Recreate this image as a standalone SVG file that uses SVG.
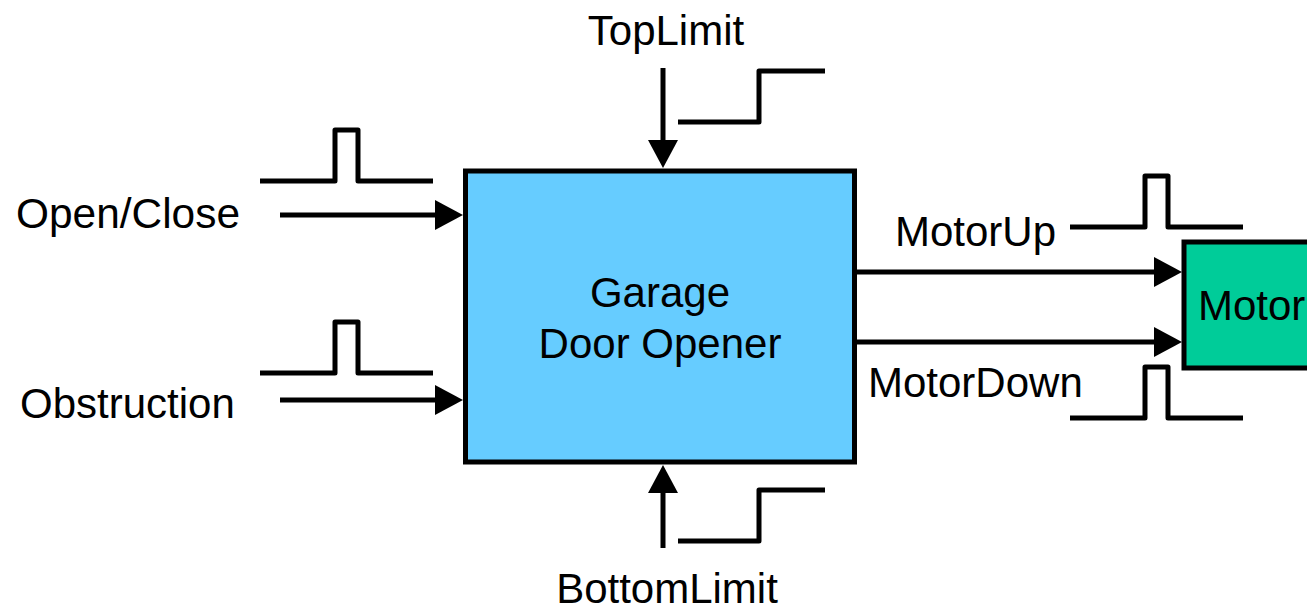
<svg xmlns="http://www.w3.org/2000/svg" width="1307" height="610" viewBox="0 0 1307 610">
<defs>
<style>
.txt{font-family:"Liberation Sans",Arial,sans-serif;font-size:42px;fill:#000}
.wave{fill:none;stroke:#000;stroke-width:5;stroke-linejoin:round}
.conn{fill:none;stroke:#000;stroke-width:5;marker-end:url(#ah)}
</style>
<marker id="ah" markerUnits="userSpaceOnUse" markerWidth="28" markerHeight="30" refX="0" refY="15" orient="auto" viewBox="0 0 28 30">
<path d="M0,0 L28,15 L0,30 z" fill="#000"/>
</marker>
</defs>
<rect width="1307" height="610" fill="#fff"/>
<g id="opener">
<rect x="465.5" y="171" width="389" height="291" fill="#66CCFF" stroke="#000" stroke-width="5"/>
<text class="txt" x="660" y="307" text-anchor="middle">Garage</text>
<text class="txt" x="660" y="358" text-anchor="middle">Door Opener</text>
</g>
<g id="motor">
<rect x="1184" y="242" width="140" height="126" fill="#00CC99" stroke="#000" stroke-width="5"/>
<text class="txt" x="1198" y="320">Motor</text>
</g>
<g id="labels">
<text class="txt" x="16" y="228" textLength="224" lengthAdjust="spacingAndGlyphs">Open/Close</text>
<text class="txt" x="20" y="418">Obstruction</text>
<text class="txt" x="666" y="45" text-anchor="middle">TopLimit</text>
<text class="txt" x="667" y="603" text-anchor="middle">BottomLimit</text>
<text class="txt" x="895" y="246">MotorUp</text>
<text class="txt" x="868" y="397">MotorDown</text>
</g>
<g id="waveforms">
<path class="wave" d="M260,181 H335 V130 H358 V181 H433"/>
<path class="wave" d="M260,373 H335 V322 H358 V373 H433"/>
<path class="wave" d="M678,122 H759 V71 H825"/>
<path class="wave" d="M678,541 H759 V490 H825"/>
<path class="wave" d="M1070,227 H1145 V176 H1168 V227 H1243"/>
<path class="wave" d="M1070,418 H1145 V367 H1168 V418 H1243"/>
</g>
<g id="connectors">
<path class="conn" d="M280,215 H435"/>
<path class="conn" d="M280,400 H435"/>
<path class="conn" d="M663,68 V140"/>
<path class="conn" d="M663,548 V493"/>
<path class="conn" d="M857,272 H1154"/>
<path class="conn" d="M857,342 H1154"/>
</g>
</svg>
